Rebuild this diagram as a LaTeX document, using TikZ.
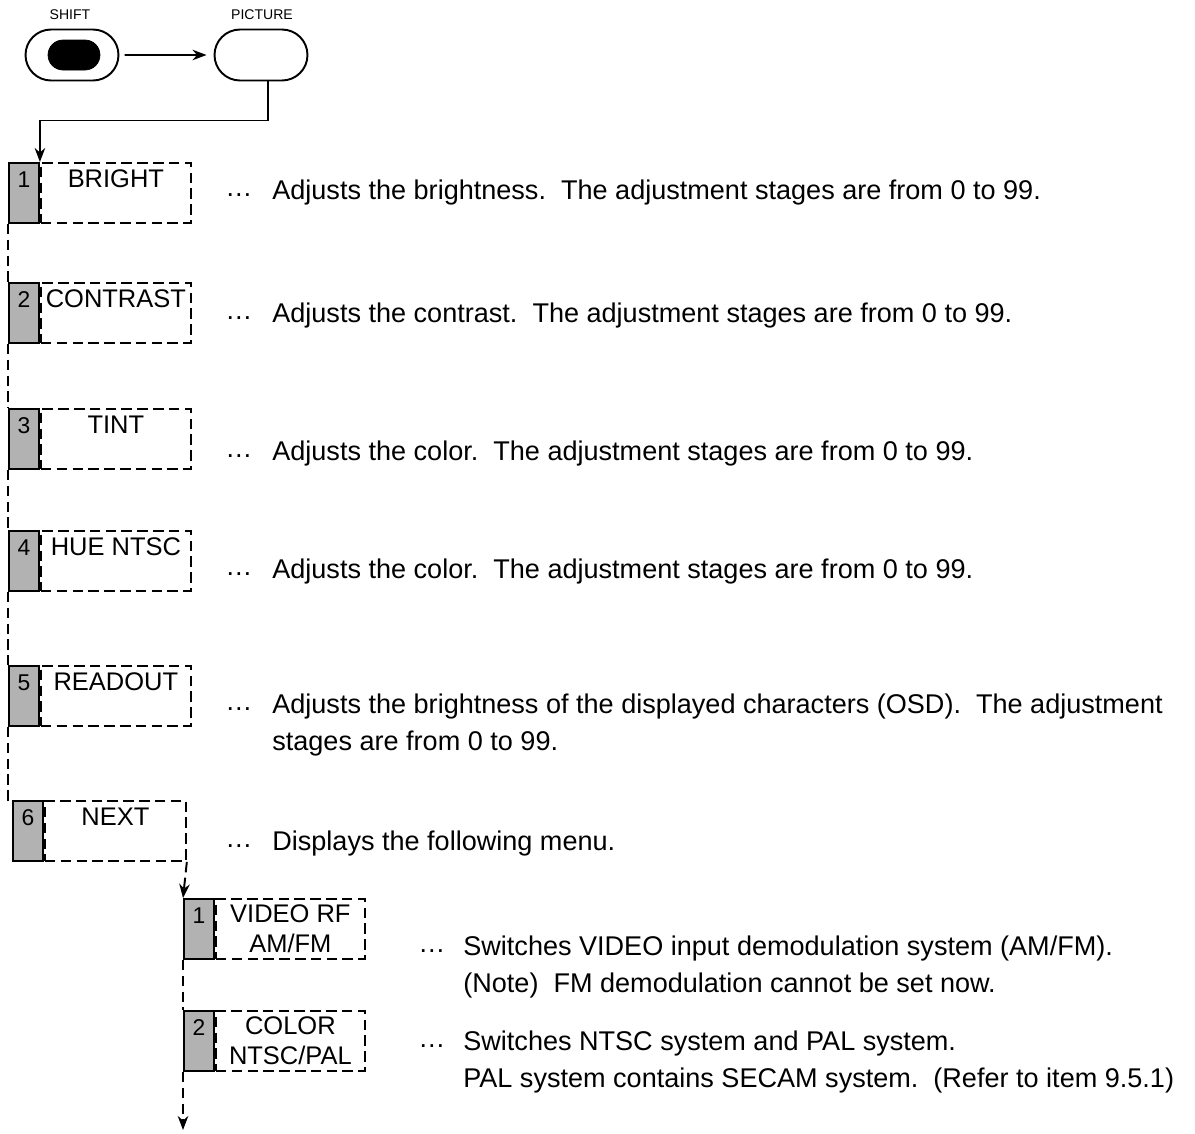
\documentclass[tikz,border=0pt]{standalone}
\usepackage{fontspec}
\setmainfont{Liberation Sans}
\usetikzlibrary{shapes.misc, arrows.meta, positioning, calc}

\tikzset{
  tab/.style={draw, line width=1.1pt, fill=black!30, minimum width=0.6cm, minimum height=1.2cm,
    inner sep=0pt, text height=0.5cm, text depth=0.7cm, anchor=north west, font=\fontsize{13}{15}\selectfont},
  menu/.style={draw, dash pattern=on 6pt off 3pt, line width=1.1pt, minimum height=1.2cm,
    inner sep=0pt, text height=0.5cm, text depth=0.7cm, font=\fontsize{14.5}{16}\selectfont},
  submenu/.style={menu, text height={}, text depth={}, align=center, font=\fontsize{14.5}{17}\selectfont},
  dots/.style={anchor=base west, inner sep=0pt},
  desc/.style={anchor=base west, align=left, inner sep=0pt},
  link/.style={dash pattern=on 6pt off 3pt, line width=1.1pt},
  key/.style={draw, rounded rectangle, line width=1.1pt, minimum width=1.86cm, minimum height=1.02cm, inner sep=0pt},
}

\begin{document}
\begin{tikzpicture}[x=0.02cm, y=-0.02cm, >={Stealth[length=8pt, width=6pt]}, font=\fontsize{15.4}{21}\selectfont]
    \useasboundingbox (0,0) rectangle (1195,1133);

    % Keys
    \node[font=\fontsize{8}{9}\selectfont] (shiftlbl) at (70,15) {SHIFT};
    \node[key] (shift) at (72,55) {};
    \node[draw, rounded rectangle, fill=black, minimum width=1.04cm, minimum height=0.6cm, inner sep=0pt] (shiftdot) at (74,55) {};
    \node[font=\fontsize{8}{9}\selectfont] (pictlbl) at (262,15) {PICTURE};
    \node[key] (pict) at (261,55) {};
    \draw[->, line width=1pt, shorten <=3pt, shorten >=4pt] (shift) -- (pict);

    % Main menu
    \node[tab] (t1) at (8,162) {1};
    \node[menu, minimum width=3cm, right=0pt of t1] (m1) {BRIGHT};
    \node[tab] (t2) at (8,282) {2};
    \node[menu, minimum width=3cm, right=0pt of t2] (m2) {CONTRAST};
    \node[tab] (t3) at (8,408) {3};
    \node[menu, minimum width=3cm, right=0pt of t3] (m3) {TINT};
    \node[tab] (t4) at (8,530) {4};
    \node[menu, minimum width=3cm, right=0pt of t4] (m4) {HUE NTSC};
    \node[tab] (t5) at (8,665) {5};
    \node[menu, minimum width=3cm, right=0pt of t5] (m5) {READOUT};
    \node[tab] (t6) at (12,800) {6};
    \node[menu, minimum width=2.82cm, right=0pt of t6] (m6) {NEXT};

    % Sub menu
    \node[tab] (s1) at (183,898) {1};
    \node[submenu, minimum width=2.98cm, right=0pt of s1] (n1) {VIDEO RF\\AM/FM};
    \node[tab] (s2) at (183,1010) {2};
    \node[submenu, minimum width=2.98cm, right=0pt of s2] (n2) {COLOR\\NTSC/PAL};

    % Descriptions (multi-line ones sit on their last line)
    \node[dots] (p1) at (225,199) {\raisebox{1.5pt}{…}};
    \node[desc] (d1) at (272,199) {Adjusts the brightness.\ \ The adjustment stages are from 0 to 99.};
    \node[dots] (p2) at (225,322) {\raisebox{1.5pt}{…}};
    \node[desc] (d2) at (272,322) {Adjusts the contrast.\ \ The adjustment stages are from 0 to 99.};
    \node[dots] (p3) at (225,460) {\raisebox{1.5pt}{…}};
    \node[desc] (d3) at (272,460) {Adjusts the color.\ \ The adjustment stages are from 0 to 99.};
    \node[dots] (p4) at (225,578) {\raisebox{1.5pt}{…}};
    \node[desc] (d4) at (272,578) {Adjusts the color.\ \ The adjustment stages are from 0 to 99.};
    \node[dots] (p5) at (225,713) {\raisebox{1.5pt}{…}};
    \node[desc] (d5) at (272,750) {Adjusts the brightness of the displayed characters (OSD).\ \ The adjustment\\stages are from 0 to 99.};
    \node[dots] (p6) at (225,850) {\raisebox{1.5pt}{…}};
    \node[desc] (d6) at (272,850) {Displays the following menu.};
    \node[dots] (q1) at (418,955) {\raisebox{1.5pt}{…}};
    \node[desc] (e1) at (463,992) {Switches VIDEO input demodulation system (AM/FM).\\(Note)\ \ FM demodulation cannot be set now.};
    \node[dots] (q2) at (418,1050) {\raisebox{1.5pt}{…}};
    \node[desc] (e2) at (463,1087) {Switches NTSC system and PAL system.\\PAL system contains SECAM system.\ \ (Refer to item 9.5.1)};

    % Connectors
    \draw[->, line width=1pt] (pict.south) ++(7,0) -- ++(0,39) -| (t1.north east);
    \draw[link] (t1.south west) -- (t2.north west);
    \draw[link] (t2.south west) -- (t3.north west);
    \draw[link] (t3.south west) -- (t4.north west);
    \draw[link] (t4.south west) -- (t5.north west);
    \draw[link] (t5.south west) |- (t6.north west);
    \draw[link, ->] (m6.south east) -- (s1.north west);
    \draw[link] (s1.south west) -- (s2.north west);
    \coordinate (end) at (183,1130);
    \draw[link, ->] (s2.south west) -- (end);
\end{tikzpicture}
\end{document}
